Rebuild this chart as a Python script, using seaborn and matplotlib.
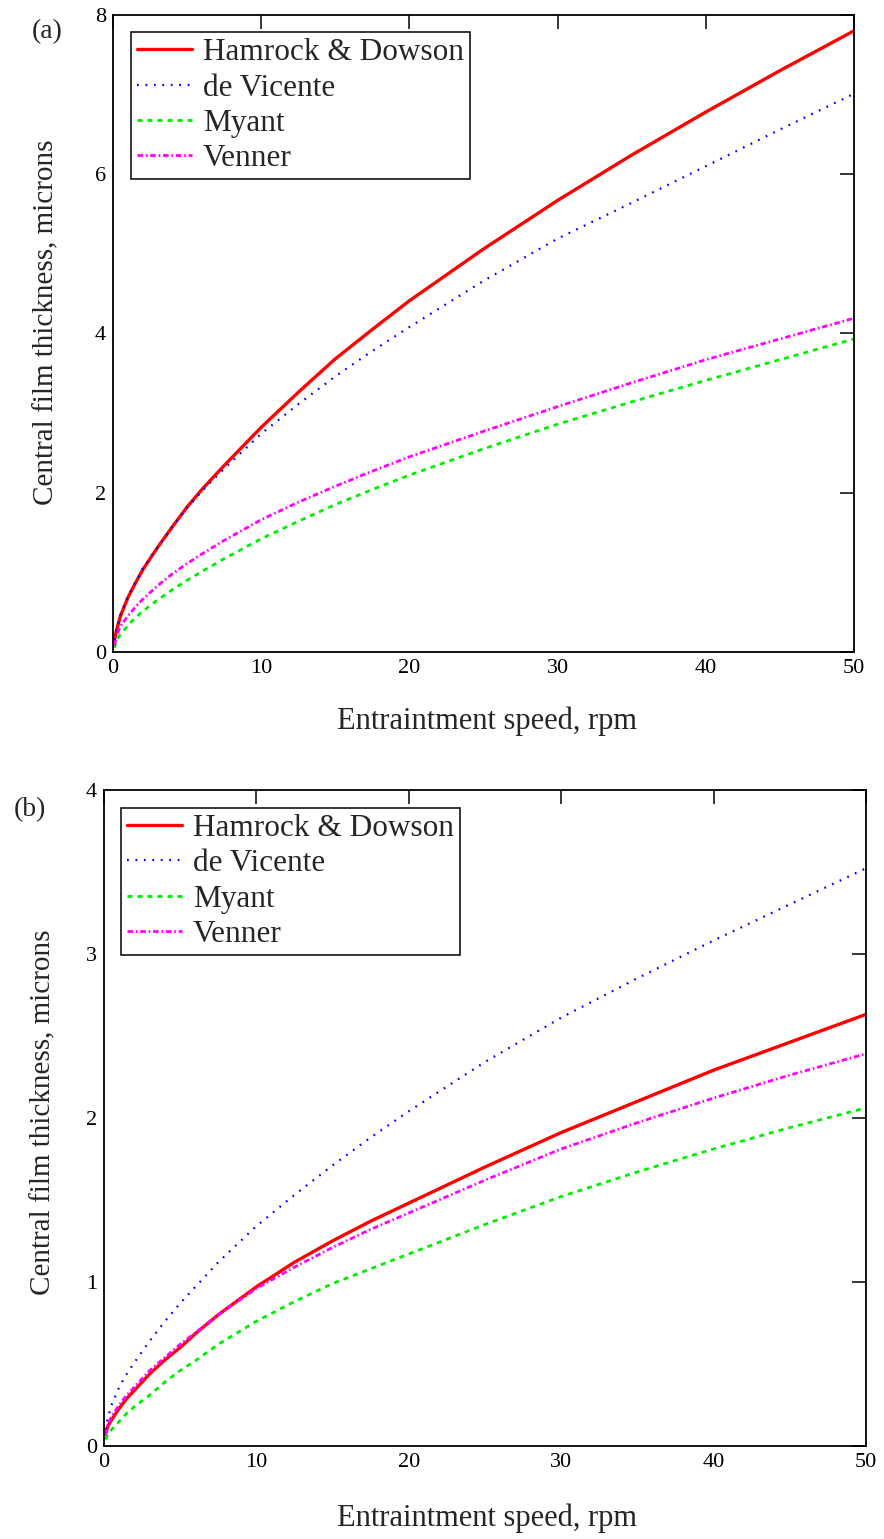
import matplotlib
matplotlib.use("Agg")
import matplotlib.pyplot as plt
import seaborn as sns
import pandas as pd

# Entrainment speed (rpm) at which each film-thickness curve was sampled
speed = [0.1, 0.25, 0.5, 1, 1.5, 2, 3, 4, 5, 6, 7.5, 10, 12.5, 15, 17.5, 20,
         25, 30, 35, 40, 45, 50]

# Panel (a): central film thickness, microns
a_hamrock = [0.15, 0.28, 0.45, 0.68, 0.86, 1.03, 1.31, 1.57, 1.82, 2.04, 2.34, 2.82,
             3.26, 3.68, 4.05, 4.41, 5.06, 5.67, 6.24, 6.78, 7.30, 7.80]
a_vicente = [0.15, 0.29, 0.46, 0.69, 0.87, 1.04, 1.31, 1.57, 1.81, 2.02, 2.30, 2.74,
             3.11, 3.46, 3.78, 4.08, 4.66, 5.19, 5.64, 6.10, 6.56, 7.01]
a_myant = [0.05, 0.14, 0.22, 0.33, 0.43, 0.51, 0.65, 0.78, 0.90, 1.01, 1.17, 1.42,
           1.64, 1.85, 2.04, 2.22, 2.55, 2.86, 3.14, 3.41, 3.67, 3.93]
a_venner = [0.08, 0.21, 0.32, 0.45, 0.56, 0.66, 0.83, 0.98, 1.11, 1.23, 1.40, 1.66,
            1.88, 2.08, 2.27, 2.45, 2.77, 3.08, 3.38, 3.67, 3.93, 4.19]

# Panel (b): central film thickness, microns
b_hamrock = [0.07, 0.12, 0.16, 0.23, 0.29, 0.34, 0.44, 0.525, 0.60, 0.685, 0.80, 0.97,
             1.12, 1.25, 1.37, 1.48, 1.70, 1.91, 2.10, 2.29, 2.46, 2.63]
b_vicente = [0.10, 0.17, 0.25, 0.36, 0.44, 0.51, 0.64, 0.76, 0.87, 0.97, 1.12, 1.34,
             1.53, 1.71, 1.88, 2.04, 2.34, 2.61, 2.85, 3.08, 3.30, 3.52]
b_myant = [0.04, 0.07, 0.10, 0.15, 0.20, 0.24, 0.31, 0.39, 0.46, 0.52, 0.62, 0.76,
           0.88, 0.99, 1.08, 1.17, 1.35, 1.52, 1.67, 1.81, 1.94, 2.06]
b_venner = [0.07, 0.13, 0.18, 0.25, 0.31, 0.36, 0.46, 0.54, 0.62, 0.69, 0.80, 0.96,
            1.09, 1.21, 1.32, 1.42, 1.62, 1.81, 1.97, 2.12, 2.26, 2.39]

models = ["Hamrock & Dowson", "de Vicente", "Myant", "Venner"]
x_ticks = [0, 10, 20, 30, 40, 50]
a_yticks = [0, 2, 4, 6, 8]
b_yticks = [0, 1, 2, 3, 4]

x_label = "Entraintment speed, rpm"
y_label = "Central film thickness, microns"

sns.set_theme(style="white")
plt.rcParams["font.family"] = ["Liberation Serif", "DejaVu Serif"]

line_styles = {
    "Hamrock & Dowson": dict(color="#ff0000", lw=2.4, ls="-"),
    "de Vicente": dict(color="#0000ff", lw=1.6, ls=(0, (0.8, 3.0))),
    "Myant": dict(color="#00ee00", lw=2.0, ls=(0, (1.8, 1.8))),
    "Venner": dict(color="#ff00ff", lw=2.0, ls=(0, (2.0, 1.0, 0.6, 1.0))),
}


def long_form(series):
    rows = []
    for name, vals in zip(models, series):
        for s, v in zip(speed, vals):
            rows.append({"speed": s, "thickness": v, "model": name})
    return pd.DataFrame(rows)


def draw_panel(ax, df, ymax, yticks, legend_anchor, xlab_coords, ylab_coords):
    for name in models:
        st = line_styles[name]
        sns.lineplot(data=df[df["model"] == name], x="speed", y="thickness",
                     ax=ax, color=st["color"], linewidth=st["lw"],
                     linestyle=st["ls"], label=name, estimator=None,
                     sort=True, legend=False)
    ax.set_xlim(0, 50)
    ax.set_ylim(0, ymax)
    ax.set_xticks(x_ticks)
    ax.set_yticks(yticks)
    ax.set_xticklabels([str(t) for t in x_ticks])
    ax.set_yticklabels([str(t) for t in yticks])
    ax.tick_params(axis="both", direction="in", length=10, width=1.1,
                   top=True, right=True, labeltop=False, labelright=False,
                   labelsize=16, pad=5, colors="black")
    for sp in ax.spines.values():
        sp.set_visible(True)
        sp.set_color("black")
        sp.set_linewidth(1.3)
    ax.set_xlabel(x_label, fontsize=22)
    ax.set_ylabel(y_label, fontsize=21)
    ax.xaxis.set_label_coords(*xlab_coords)
    ax.yaxis.set_label_coords(*ylab_coords)
    ax.grid(False)
    handles, labels = ax.get_legend_handles_labels()
    leg = ax.legend(handles, labels, loc="upper left",
                    bbox_to_anchor=legend_anchor, borderaxespad=0,
                    fontsize=22.5, frameon=True, fancybox=False, shadow=False,
                    framealpha=1, edgecolor="black", handlelength=1.75,
                    handletextpad=0.35, borderpad=0.2, labelspacing=0.2)
    leg.get_frame().set_linewidth(1.1)


fig = plt.figure(figsize=(8.84, 15.39), dpi=100)
ax1 = fig.add_axes([0.1278, 0.5764, 0.8382, 0.4139])
ax2 = fig.add_axes([0.1176, 0.0604, 0.8620, 0.4266])

draw_panel(ax1, long_form([a_hamrock, a_vicente, a_myant, a_venner]), 8, a_yticks,
           (0.0243, 0.973), (0.505, -0.086), (-0.072, 0.518))
draw_panel(ax2, long_form([b_hamrock, b_vicente, b_myant, b_venner]), 4, b_yticks,
           (0.0223, 0.972), (0.503, -0.088), (-0.062, 0.509))

fig.text(47 / 884, 1 - 32 / 1539, "(a)", fontsize=20, ha="center", va="center")
fig.text(30 / 884, 1 - 810 / 1539, "(b)", fontsize=20, ha="center", va="center")

fig.savefig("out.png", dpi=100, facecolor="white")
